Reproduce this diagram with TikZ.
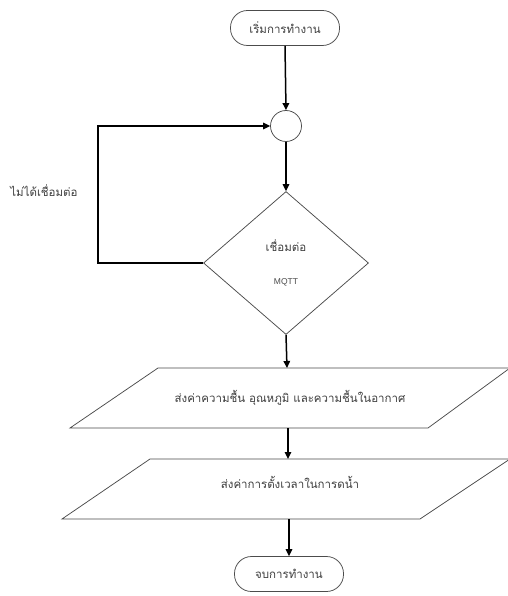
\documentclass[tikz,border=0pt]{standalone}
\usepackage{fontspec}
\setmainfont{Liberation Sans}
\newfontfamily\thaifont[Script=Thai]{Loma}
\usetikzlibrary{arrows.meta,shapes.geometric}
\begin{document}
\begin{tikzpicture}[x=1pt,y=-1pt,
  shapeline/.style={draw=black!70, line width=0.75pt},
  flow/.style={draw=black, line width=1.5pt, -{Triangle[length=7pt,width=6.5pt]}},
  lbl/.style={font=\thaifont\fontsize{11.5}{13}\selectfont, text=black!75},
  terminal/.style={shapeline, rounded corners=17pt, minimum width=109pt, minimum height=35pt, lbl}]
\useasboundingbox (0,0) rectangle (507,596);
\fill[white] (0,0) rectangle (507,596);
% nodes
\node[terminal] (start) at (285,28) {เริ่มการทำงาน};
\node[shapeline, circle, minimum size=31pt, inner sep=0pt] (join) at (286,126) {};
\node[shapeline, diamond, minimum width=165pt, minimum height=143pt, inner sep=0pt] (dec) at (286,263) {};
\node[lbl] (dectext) at (286,246) {เชื่อมต่อ};
\node[font=\fontsize{8.5}{10}\selectfont, text=black!70] (mqtt) at (286,282) {MQTT};
\node[lbl] (nolink) at (44,191) {ไม่ได้เชื่อมต่อ};
% parallelogram 1
\draw[shapeline] (158,368) -- (510,368) -- (428,428) -- (70,428) -- cycle;
\node[lbl] (p1) at (290,398) {ส่งค่าความชื้น อุณหภูมิ และความชื้นในอากาศ};
\coordinate (p1top) at (287,368);
\coordinate (p1bot) at (288,428);
% parallelogram 2
\draw[shapeline] (150,459) -- (510,459) -- (420,519) -- (62,519) -- cycle;
\node[lbl] (p2) at (290,482) {ส่งค่าการตั้งเวลาในการดน้ำ};
\coordinate (p2top) at (288,459);
\coordinate (p2bot) at (289,519);
\node[terminal] (stop) at (289,574) {จบการทำงาน};
\coordinate (loopcorner) at (98,263);
% connectors
\draw[flow] (start.south) -- (join.north);
\draw[flow] (join.south) -- (dec.north);
\draw[flow] (dec.west) -- (loopcorner) |- (join.west);
\draw[flow] (dec.south) -- (p1top);
\draw[flow] (p1bot) -- (p2top);
\draw[flow] (p2bot) -- (stop.north);
\end{tikzpicture}
\end{document}
